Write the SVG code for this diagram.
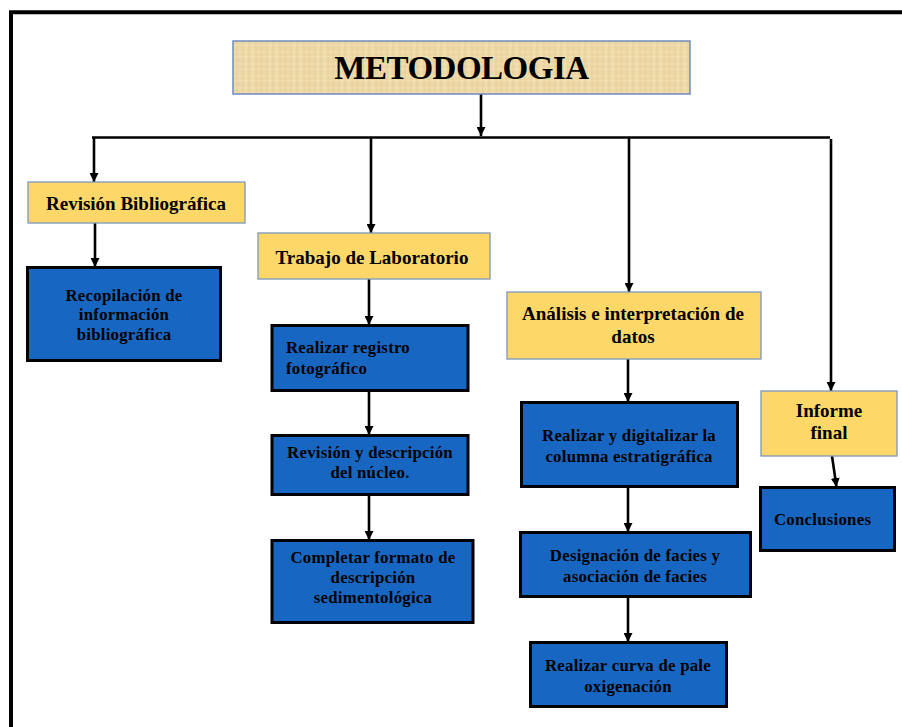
<svg xmlns="http://www.w3.org/2000/svg" width="902" height="727" viewBox="0 0 902 727">
<defs>
<style>
.frame{fill:none;stroke:#000;stroke-width:4}
.conn{fill:none;stroke:#000;stroke-width:2.6}
.arr{marker-end:url(#ah)}
.yel{fill:#FDD868;stroke:#7E95BD;stroke-width:1.3}
.blu{fill:#1767C2;stroke:#000;stroke-width:3}
.ttl{font-family:"Liberation Serif","Times New Roman",serif;font-weight:bold;font-size:33px;letter-spacing:-0.5px;fill:#000;text-anchor:middle}
.yt{font-family:"Liberation Serif","Times New Roman",serif;font-weight:bold;font-size:19px;fill:#000;text-anchor:middle}
.bt{font-family:"Liberation Serif","Times New Roman",serif;font-weight:bold;font-size:16.8px;letter-spacing:0.25px;fill:#000;text-anchor:middle}
.bl{text-anchor:start}
</style>
<marker id="ah" viewBox="0 0 10 10" refX="10" refY="5" markerWidth="9" markerHeight="9" markerUnits="userSpaceOnUse" orient="auto">
<path d="M0,0 L10,5 L0,10 z" fill="#000"/>
</marker>
<pattern id="papyrus" width="24" height="12" patternUnits="userSpaceOnUse">
<rect width="24" height="12" fill="#EDD8A5"/>
<path d="M3 0V12M9 0V12M16 0V12M21 0V12" stroke="#D8BF88" stroke-width="0.8" opacity="0.6"/>
<path d="M0 4H24M0 9H24" stroke="#F6E6BE" stroke-width="0.8" opacity="0.7"/>
<path d="M6 0V12M13 0V12" stroke="#F5E4BA" stroke-width="1" opacity="0.6"/>
</pattern>
</defs>
<rect width="902" height="727" fill="#fff"/>
<path class="frame" d="M11 727 V12.3 H902"/>

<g id="connectors">
<path class="conn arr" d="M481 94 V136"/>
<path class="conn" d="M92 137.5 H830"/>
<path class="conn arr" d="M94 137 V182"/>
<path class="conn arr" d="M371 137 V233"/>
<path class="conn arr" d="M629 137 V292"/>
<path class="conn arr" d="M831 139 V391"/>
<path class="conn arr" d="M95 223 V267"/>
<path class="conn arr" d="M369 279 V325"/>
<path class="conn arr" d="M369 391 V435"/>
<path class="conn arr" d="M369 495 V540"/>
<path class="conn arr" d="M628 359 V402"/>
<path class="conn arr" d="M628 487 V532"/>
<path class="conn arr" d="M628 597 V642"/>
<path class="conn arr" d="M832 456 L836.5 487"/>
</g>

<g id="metodologia">
<rect x="233" y="41" width="457" height="53" fill="url(#papyrus)" stroke="#6F8AC0" stroke-width="1.5"/>
<text class="ttl" x="461.5" y="79">METODOLOGIA</text>
</g>

<g id="revision-bibliografica">
<rect class="yel" x="28" y="182" width="217" height="41"/>
<text class="yt" x="136" y="210">Revisión Bibliográfica</text>
</g>
<g id="recopilacion">
<rect class="blu" x="27.5" y="267.5" width="193" height="93"/>
<text class="bt" x="124" y="301">Recopilación de</text>
<text class="bt" x="124" y="320">información</text>
<text class="bt" x="124" y="340">bibliográfica</text>
</g>

<g id="trabajo-laboratorio">
<rect class="yel" x="258" y="233" width="232" height="46"/>
<text class="yt" x="372" y="264">Trabajo de Laboratorio</text>
</g>
<g id="registro-fotografico">
<rect class="blu" x="272" y="325.5" width="196" height="65"/>
<text class="bt bl" x="286" y="353">Realizar registro</text>
<text class="bt bl" x="286" y="374">fotográfico</text>
</g>
<g id="revision-nucleo">
<rect class="blu" x="272" y="435.5" width="196" height="59"/>
<text class="bt" x="370" y="458">Revisión y descripción</text>
<text class="bt" x="370" y="478">del núcleo.</text>
</g>
<g id="completar-formato">
<rect class="blu" x="272" y="540.5" width="201" height="82"/>
<text class="bt" x="373" y="563">Completar formato de</text>
<text class="bt" x="373" y="583">descripción</text>
<text class="bt" x="373" y="603">sedimentológica</text>
</g>

<g id="analisis">
<rect class="yel" x="507" y="292" width="254" height="67"/>
<text class="yt" x="633" y="320">Análisis e interpretación de</text>
<text class="yt" x="633" y="343">datos</text>
</g>
<g id="columna">
<rect class="blu" x="521.5" y="402.5" width="216" height="84"/>
<text class="bt" x="629" y="441">Realizar y digitalizar la</text>
<text class="bt" x="629" y="462">columna estratigráfica</text>
</g>
<g id="facies">
<rect class="blu" x="520.5" y="532.5" width="230" height="64"/>
<text class="bt" x="635" y="561">Designación de facies y</text>
<text class="bt" x="635" y="582">asociación de facies</text>
</g>
<g id="curva">
<rect class="blu" x="530.5" y="642.5" width="196" height="64"/>
<text class="bt" x="628" y="671">Realizar curva de pale</text>
<text class="bt" x="628" y="692">oxigenación</text>
</g>

<g id="informe-final">
<rect class="yel" x="761" y="391" width="136" height="65"/>
<text class="yt" x="829" y="417">Informe</text>
<text class="yt" x="829" y="439">final</text>
</g>
<g id="conclusiones">
<rect class="blu" x="760.5" y="487.5" width="134" height="63"/>
<text class="bt bl" x="774" y="525">Conclusiones</text>
</g>
</svg>
